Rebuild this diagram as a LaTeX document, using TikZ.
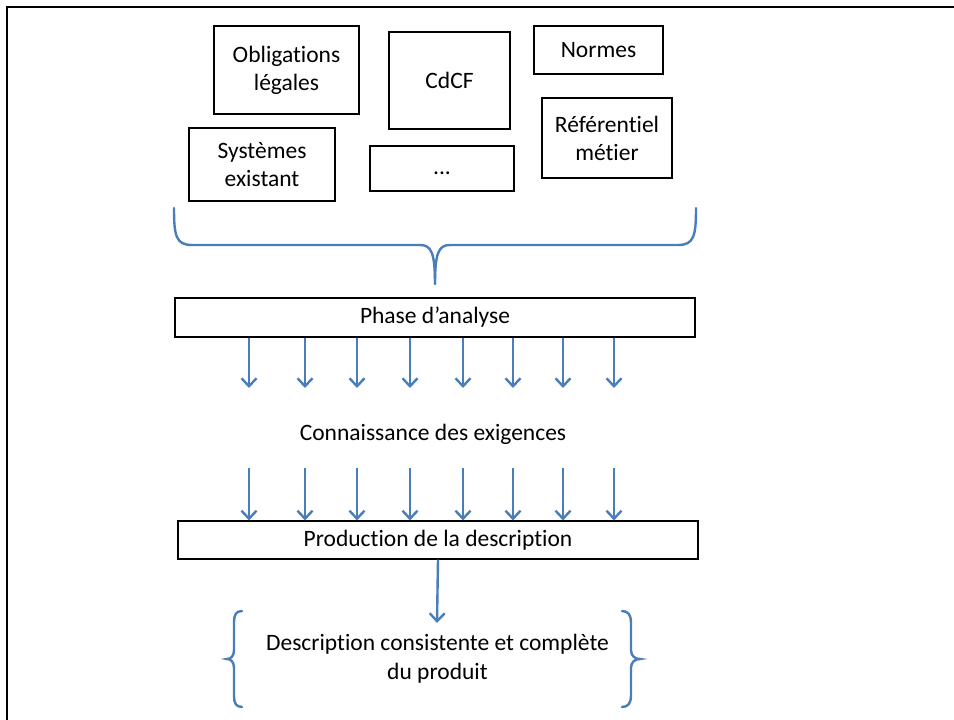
\documentclass[tikz,border=0pt]{standalone}
\usepackage{fontspec}
\setmainfont{Carlito}[Ligatures=NoCommon]
\usetikzlibrary{arrows.meta}
\definecolor{flowblue}{HTML}{4A7EBB}
\begin{document}
\begin{tikzpicture}[x=1pt,y=-1pt,
  box/.style={draw=black, line width=1.1pt, rectangle, inner sep=0pt, align=center,
    font=\fontsize{23.5}{28}\selectfont},
  plain/.style={inner sep=0pt, align=center, font=\fontsize{23.5}{29}\selectfont},
  flow/.style={draw=flowblue, line width=2.4pt, -{Straight Barb[length=8pt,width=15pt]}},
  brace/.style={draw=flowblue, line width=2.4pt, line cap=round}]
\useasboundingbox (0,0) rectangle (954,720);

% page frame (top and left edges)
\draw[line width=2.6pt] (7,720) -- (7,7) -- (954,7);

% sources
\node[box, minimum width=145, minimum height=88] (oblig) at (286.5,70) {Obligations\\légales};
\node[box, minimum width=121, minimum height=97] (cdcf) at (449.5,80.5) {CdCF};
\node[box, minimum width=129, minimum height=48] (normes) at (598.5,50) {Normes};
\node[box, minimum width=146, minimum height=73] (syst) at (262,164.5) {Systèmes\\existant};
\node[box, minimum width=144, minimum height=45] (dots) at (442,168.5) {\vphantom{Ag}...};
\node[box, minimum width=130, minimum height=80] (refer) at (607,138) {Référentiel\\métier};

% gathering brace
\draw[brace] (174,208) .. controls (174,236) and (176,245) .. (192,245)
  -- (420,245) .. controls (431,245) and (435,252) .. (435,284);
\draw[brace] (435,284) .. controls (435,252) and (439,245) .. (450,245)
  -- (678,245) .. controls (694,245) and (696,236) .. (696,208);

% analysis
\node[box, minimum width=520, minimum height=39] (phase) at (435,317.5) {Phase d’analyse};

\foreach \i/\x in {1/249,2/305,3/357,4/410,5/463,6/513,7/563,8/614}{
  \coordinate (a\i) at (\x,388);
  \draw[flow] (phase.south -| a\i) -- (a\i);
}

\node[plain] (know) at (433,434) {Connaissance des exigences};

% production
\node[box, minimum width=520, minimum height=38] (prod) at (438,540) {Production de la description};

\foreach \i/\x in {1/249,2/305,3/357,4/410,5/463,6/513,7/563,8/614}{
  \coordinate (b\i) at (\x,468);
  \draw[flow] (b\i) -- (prod.north -| b\i);
}

\coordinate (out) at (437,623);
\draw[flow] (prod.south) -- (out);

% result
\node[plain] (desc) at (437.5,659) {Description consistente et complète\\du produit};

\draw[brace] (242,611) .. controls (236,611) and (234,615) .. (234,622)
  -- (234,650) .. controls (234,656) and (231,659) .. (227,659)
  .. controls (231,659) and (234,662) .. (234,668)
  -- (234,696) .. controls (234,703) and (236,707) .. (242,707);
\draw[brace] (622,611) .. controls (628,611) and (631,615) .. (631,622)
  -- (631,650) .. controls (631,656) and (635,659) .. (640,659)
  .. controls (635,659) and (631,662) .. (631,668)
  -- (631,696) .. controls (631,703) and (628,707) .. (622,707);
\end{tikzpicture}
\end{document}
